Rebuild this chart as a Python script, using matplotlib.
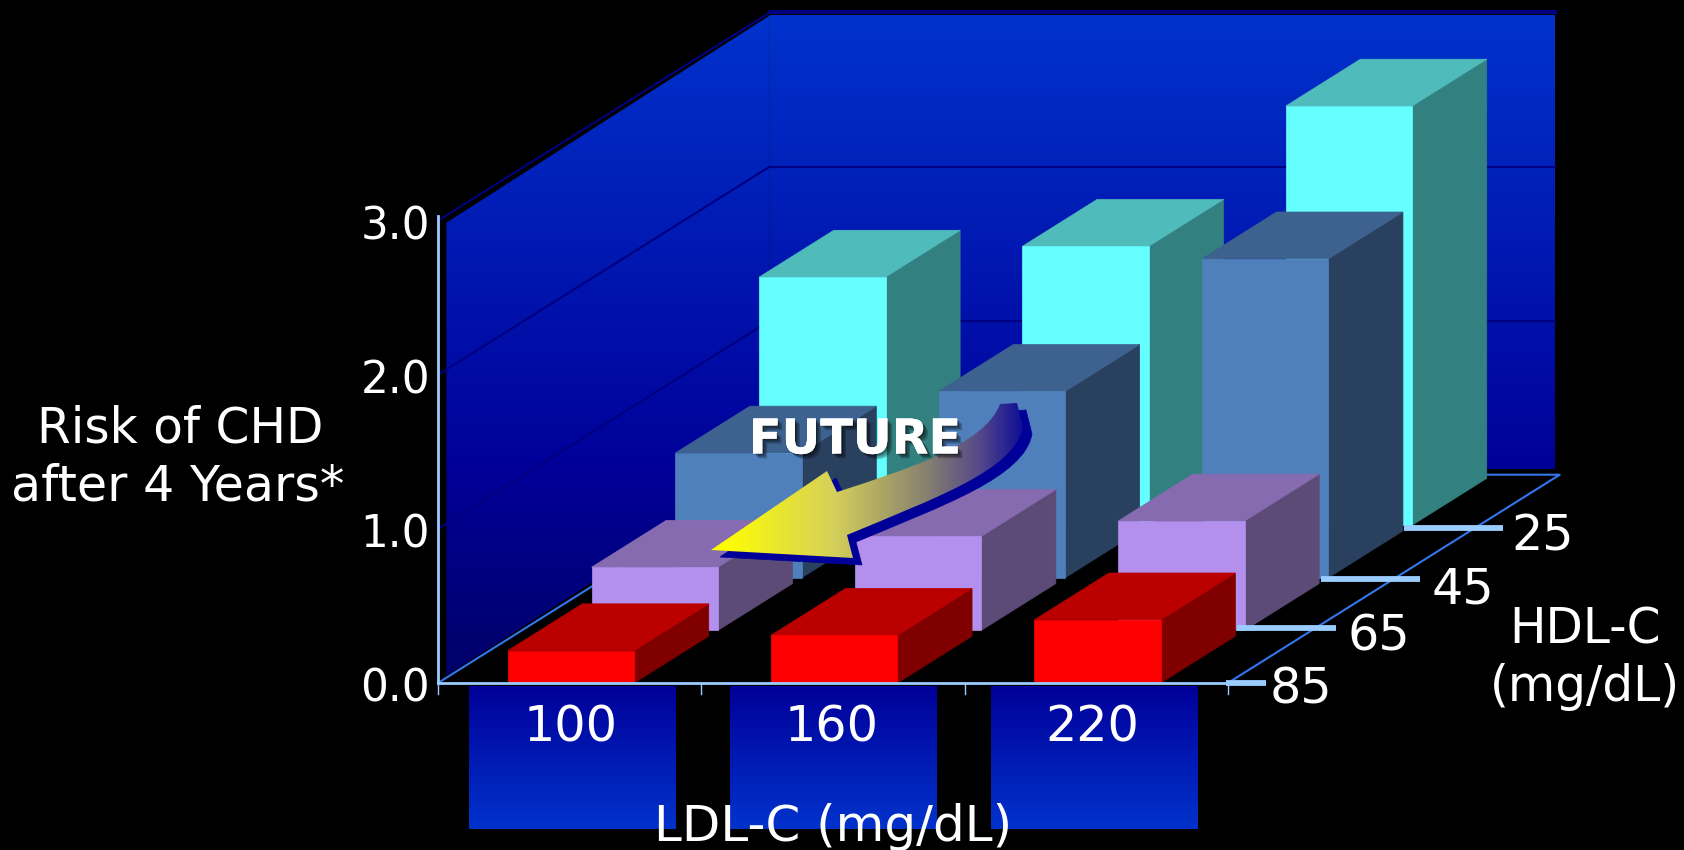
import numpy as np
import matplotlib
matplotlib.use('Agg')
import matplotlib.pyplot as plt
import matplotlib.patheffects as pe
from matplotlib.colors import LinearSegmentedColormap
from matplotlib.patches import PathPatch, Polygon
from matplotlib.path import Path

ldl_labels = ['100', '160', '220']
hdl_labels = ['85', '65', '45', '25']
value_ticks = [0, 1, 2, 3]

# risk per LDL-C level, one list per HDL-C level
risk_hdl85 = [0.21, 0.31, 0.41]
risk_hdl65 = [0.41, 0.61, 0.71]
risk_hdl45 = [0.81, 1.21, 2.07]
risk_hdl25 = [1.61, 1.81, 2.72]

# front, top, side
colors_hdl85 = ['#ff0000', '#bb0000', '#800000']
colors_hdl65 = ['#b390ee', '#866bb0', '#5c4b77']
colors_hdl45 = ['#4f80bb', '#3d628f', '#29405f']
colors_hdl25 = ['#66ffff', '#50bbbb', '#338080']

AXIS_BLUE = '#99ccff'
FLOOR_BLUE = '#3377ee'
GRID_NAVY = '#000080'

ORIGIN = np.array([438.0, 683.0])
X_UNIT = np.array([263.3, 0.0])
DEPTH_UNIT = np.array([83.8, -52.6])
VALUE_UNIT = np.array([0.0, -154.1])
WALL_DEPTH = 3.96


def project(x, depth, value=0.0):
    # oblique projection from (LDL slot, HDL slot, risk) to figure pixels
    return ORIGIN + x * X_UNIT + depth * DEPTH_UNIT + value * VALUE_UNIT


def gradient_fill(ax, verts, stops, y0, y1, zorder=1):
    cmap = LinearSegmentedColormap.from_list('fill', stops)
    xs = [v[0] for v in verts]
    im = ax.imshow(np.linspace(0, 1, 256)[:, None], cmap=cmap, aspect='auto',
                   extent=(min(xs), max(xs), y1, y0), zorder=zorder, interpolation='bilinear')
    clip = Polygon(verts, closed=True, transform=ax.transData, facecolor='none', edgecolor='none')
    ax.add_patch(clip)
    im.set_clip_path(clip)
    return im


def draw_bar(ax, x0, x1, d0, d1, value, colors, zorder):
    front = [project(x0, d0), project(x1, d0), project(x1, d0, value), project(x0, d0, value)]
    top = [project(x0, d0, value), project(x1, d0, value), project(x1, d1, value), project(x0, d1, value)]
    side = [project(x1, d0), project(x1, d1), project(x1, d1, value), project(x1, d0, value)]
    for verts, color in zip((side, top, front), (colors[2], colors[1], colors[0])):
        ax.add_patch(Polygon(verts, closed=True, facecolor=color, edgecolor=color, lw=0.5, zorder=zorder))


fig = plt.figure(figsize=(16.84, 8.5), dpi=100, facecolor='black')
ax = fig.add_axes([0, 0, 1, 1])
ax.set_facecolor('black')
ax.axis('off')

# walls
corner_x = project(0, WALL_DEPTH)[0]
wall_top = project(0, WALL_DEPTH, 3)[1] + 3
back_bottom = project(0, WALL_DEPTH)[1] - 6
back_wall = [(corner_x, wall_top), (1555, wall_top), (1555, back_bottom), (corner_x, back_bottom)]
gradient_fill(ax, back_wall, ['#0033cc', '#000099'], wall_top, back_bottom)
left_wall = [tuple(project(0.016, 0.05, 2.97)), (corner_x, wall_top), (corner_x, back_bottom),
             tuple(project(0.016, 0.05, 0.03))]
split = (back_bottom - wall_top) / (ORIGIN[1] - wall_top)
gradient_fill(ax, left_wall, [(0.0, '#0033cc'), (split, '#000099'), (1.0, '#000066')],
              wall_top, ORIGIN[1])

# gridlines on both walls
for v in value_ticks[1:]:
    corner = project(0, WALL_DEPTH, v)
    end = project(3, WALL_DEPTH, v) + (-5, 0)
    ax.plot([ORIGIN[0], corner[0]], [project(0, 0, v)[1], corner[1]], color=GRID_NAVY, lw=1.5, zorder=2)
    ax.plot([corner[0], end[0]], [corner[1], end[1]], color=GRID_NAVY, lw=3 if v == 3 else 1.5, zorder=2)

# floor outline
floor = np.array([project(0, 0), project(0, WALL_DEPTH), project(3, WALL_DEPTH), project(3, 0)])
ax.plot(floor[:2, 0], floor[:2, 1], color=FLOOR_BLUE, lw=1.5, zorder=2)
ax.plot(floor[1:, 0], floor[1:, 1], color=FLOOR_BLUE, lw=1.5, zorder=2)

# label panels under the LDL-C axis
panel_top = ORIGIN[1] + 3
panel_bottom = 829
panel_w = 207
for i in range(len(ldl_labels)):
    px0 = 469.3 + 261 * i
    panel = [(px0, panel_top), (px0 + panel_w, panel_top), (px0 + panel_w, panel_bottom), (px0, panel_bottom)]
    gradient_fill(ax, panel, ['#000099', '#0033cc'], panel_top, panel_bottom)
    ax.text(px0 + panel_w / 2 - 2.5, 728, ldl_labels[i], color='white', fontsize=35.5,
            ha='center', va='center', zorder=12)

# bars, back row first
rows = [(3, risk_hdl25, colors_hdl25), (2, risk_hdl45, colors_hdl45),
        (1, risk_hdl65, colors_hdl65), (0, risk_hdl85, colors_hdl85)]
for depth, values, colors in rows:
    for i, value in enumerate(values):
        draw_bar(ax, i + 0.265, i + 0.745, depth, depth + 0.89, value, colors, zorder=5 + (3 - depth))

# axes lines and ticks
ax.plot([ORIGIN[0], ORIGIN[0]], [project(0, 0, 3)[1] - 5, ORIGIN[1]], color=AXIS_BLUE, lw=2, zorder=10)
ax.plot([ORIGIN[0], project(3, 0)[0]], [ORIGIN[1], ORIGIN[1]], color=AXIS_BLUE, lw=2, zorder=10)
for i in range(len(ldl_labels) + 1):
    tx = project(i, 0)[0]
    ax.plot([tx, tx], [ORIGIN[1], ORIGIN[1] + 11], color=AXIS_BLUE, lw=1, zorder=10)

# HDL-C ticks sit just ahead of each row's rightmost bar
tick_shift = [(-2, 0), (-75, -2), (-75, 1), (-75, 3)]
tick_length = [40, 99, 99, 99]
label_gap = [35, 43, 43, 39]
label_drop = [6, 8, 11, 8]
for d, label in enumerate(hdl_labels):
    start = project(3, d) + tick_shift[d]
    ax.plot([start[0], start[0] + tick_length[d]], [start[1], start[1]],
            color=AXIS_BLUE, lw=4.2, solid_capstyle='butt', zorder=10)
    ax.text(start[0] + tick_length[d] + label_gap[d], start[1] + label_drop[d], label, color='white',
            fontsize=35.5, ha='center', va='center', zorder=12)

for v in value_ticks:
    ax.text(430, project(0, 0, v)[1] + 6, f'{v:.1f}', color='white', fontsize=31.5,
            ha='right', va='center', zorder=12)

ax.text(180, 428, 'Risk of CHD', color='white', fontsize=35, ha='center', va='center', zorder=12)
ax.text(178, 486, 'after 4 Years*', color='white', fontsize=35.4, ha='center', va='center', zorder=12)
ax.text(833, 827, 'LDL-C (mg/dL)', color='white', fontsize=36, ha='center', va='center', zorder=12)
ax.text(1585, 630, 'HDL-C', color='white', fontsize=35, ha='center', va='center', zorder=12)
ax.text(1585, 687, '(mg/dL)', color='white', fontsize=35, ha='center', va='center', zorder=12)

# curved FUTURE arrow
arrow_verts = [(711, 550), (827, 471), (837, 492),
               (905, 470), (985, 445), (1000, 404),
               (1017, 403), (1023, 427),
               (1015, 470), (935, 498), (847, 535),
               (853, 558), (711, 550), (711, 550)]
arrow_codes = [Path.MOVETO, Path.LINETO, Path.LINETO,
               Path.CURVE4, Path.CURVE4, Path.CURVE4,
               Path.LINETO, Path.LINETO,
               Path.CURVE4, Path.CURVE4, Path.CURVE4,
               Path.LINETO, Path.LINETO, Path.CLOSEPOLY]
arrow_path = Path(arrow_verts, arrow_codes)
shadow_path = Path(np.array(arrow_verts) + (9, 7), arrow_codes)
ax.add_patch(PathPatch(shadow_path, facecolor='#000099', edgecolor='#000099', lw=0.5, zorder=20))
arrow_cmap = LinearSegmentedColormap.from_list('arrow', [
    (0.0, '#ffff00'), (0.06, '#ffff00'), (0.41, '#d6d05a'), (0.70, '#857f70'),
    (0.86, '#55488a'), (1.0, '#0a0a96')])
arrow_im = ax.imshow(np.linspace(0, 1, 256)[None, :], cmap=arrow_cmap,
                     extent=(700, 1026, 565, 395), aspect='auto', zorder=21)
arrow_patch = PathPatch(arrow_path, facecolor='none', edgecolor='none', transform=ax.transData)
ax.add_patch(arrow_patch)
arrow_im.set_clip_path(arrow_patch)

future = ax.text(855, 440, 'FUTURE', color='white', fontsize=34.4, fontweight='bold',
                 ha='center', va='center', zorder=25)
soft_shadow = [pe.withSimplePatchShadow(offset=(o, -o), shadow_rgbFace='black', alpha=0.22)
               for o in (3.5, 2.5, 1.5, 0.8)]
future.set_path_effects(soft_shadow)

ax.set_xlim(0, 1684)
ax.set_ylim(850, 0)
fig.savefig('out.png', dpi=100, facecolor='black')
